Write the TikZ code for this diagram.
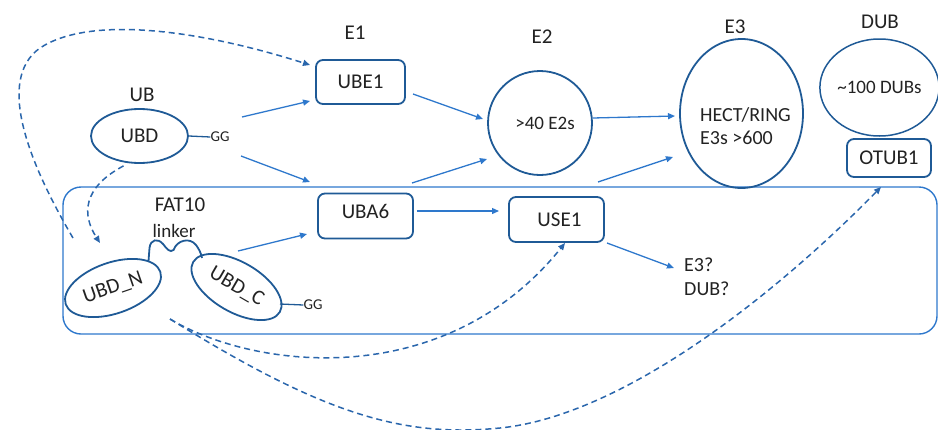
\documentclass[tikz,border=0pt]{standalone}
\usepackage{fontspec}
\setmainfont{Carlito}
\usetikzlibrary{shapes.geometric,arrows.meta}
\definecolor{nodeblue}{HTML}{1F5A96}
\definecolor{arrowblue}{HTML}{2E78CC}
\definecolor{dashblue}{HTML}{2A66AC}
\definecolor{txt}{HTML}{222222}
\tikzset{
  lbl/.style={font=\fontsize{21}{24}\selectfont, text=txt, inner sep=0pt},
  small/.style={font=\fontsize{15}{18}\selectfont, text=txt, inner sep=0pt},
  rbox/.style={draw=nodeblue, line width=1.8pt, rounded corners=7pt, inner sep=0pt,
    font=\fontsize{21}{24}\selectfont, text=txt},
  oval/.style={draw=nodeblue, line width=1.8pt, ellipse, inner sep=0pt,
    font=\fontsize{21}{24}\selectfont, text=txt},
  flow/.style={draw=arrowblue, line width=1.3pt, -{Triangle[length=7pt,width=6pt]}},
  dflow/.style={draw=dashblue, line width=1.5pt, dash pattern=on 6pt off 4pt,
    -{Triangle[length=7pt,width=6pt]}},
}
\begin{document}
\begin{tikzpicture}[x=1pt,y=-1pt]
\useasboundingbox (0,0) rectangle (938,429);

% FAT10 frame
\draw[arrowblue, line width=1.4pt, rounded corners=18pt] (63,187) rectangle (937,334);

% UB
\node[lbl] (ublbl) at (142,95) {UB};
\node[oval, minimum width=97pt, minimum height=54pt] (ubd) at (139.5,136) {UBD};
\node[small] (gg1) at (220,137) {GG};
\draw[nodeblue, line width=1.3pt] (ubd.east) -- (gg1.west);

% E1
\node[lbl] (e1lbl) at (355,33) {E1};
\node[rbox, minimum width=89pt, minimum height=44pt] (ube1) at (360.5,82) {UBE1};
\node[rbox, minimum width=95pt, minimum height=45pt, text depth=10pt] (uba6) at (365.5,216) {UBA6};

% E2
\node[lbl] (e2lbl) at (542,37) {E2};
\node[draw=nodeblue, line width=1.8pt, circle, minimum size=104pt, inner sep=0pt,
  font=\fontsize{19}{22}\selectfont, text=txt] (e2) at (540,123) {\hspace{10pt}>40 E2s};
\node[rbox, minimum width=95pt, minimum height=45pt] (use1) at (556.5,219.5) {\hspace{6pt}USE1};

% E3
\node[lbl] (e3lbl) at (735,27) {E3};
\node[oval, minimum width=123pt, minimum height=149pt] (e3) at (741.5,113.5) {};
\node[font=\fontsize{20}{23}\selectfont, text=txt, inner sep=0pt, align=left, anchor=west] (e3t) at (700,126.5) {HECT/RING\\E3s >600};
\node[font=\fontsize{20}{24}\selectfont, text=txt, inner sep=0pt, align=left, anchor=west] (e3q) at (684,277) {E3?\\DUB?};

% DUB
\node[lbl] (dublbl) at (880,22) {DUB};
\node[draw=nodeblue, line width=1.5pt, ellipse, minimum width=115pt, minimum height=97pt, inner sep=0pt,
  font=\fontsize{19}{22}\selectfont, text=txt] (dub) at (879.5,87.5) {\textasciitilde100 DUBs};
\node[rbox, minimum width=84pt, minimum height=38pt] (otub1) at (889,158) {OTUB1};

% FAT10 domains
\node[lbl] (fatlbl) at (180,205) {FAT10};
\node[font=\fontsize{19}{22}\selectfont, text=txt, inner sep=0pt] (linklbl) at (174,231) {linker};
\node[oval, minimum width=100pt, minimum height=51pt, rotate=19] (ubdn) at (113,288) {UBD\_N};
\node[oval, minimum width=100pt, minimum height=50pt, rotate=-30] (ubdc) at (236.5,287) {UBD\_C};
\node[small] (gg2) at (313,305) {GG};
\draw[nodeblue, line width=1.3pt] (280,304) -- (gg2.west);

% linker between the two domains
\draw[nodeblue, line width=1.8pt]
  (148.5,261) -- (149.5,248)
  .. controls (150.5,239) and (158,238) .. (163,244)
  .. controls (167,249) and (170,253) .. (173.5,250)
  .. controls (177,240) and (190,237) .. (196,245)
  .. controls (199,249) and (201,253) .. (202,258);

% solid arrows
\coordinate (a1s) at (242,117); \coordinate (a1e) at (310,101);
\coordinate (a2s) at (241,156); \coordinate (a2e) at (310,182);
\draw[flow] (a1s) -- (a1e);
\draw[flow] (a2s) -- (a2e);
\coordinate (b1s) at (413,94); \coordinate (b1e) at (483,119);
\coordinate (b2s) at (412,183); \coordinate (b2e) at (487,159);
\draw[flow] (b1s) -- (b1e);
\draw[flow] (b2s) -- (b2e);
\draw[flow] (e2.east) ++(0,-5) coordinate (c1s) -- (675,116) coordinate (c1e);
\coordinate (c2s) at (598,182); \coordinate (c2e) at (673,157);
\draw[flow] (c2s) -- (c2e);
\draw[flow] (uba6.east) ++(3,-5) coordinate (d1s) -- (499,211) coordinate (d1e);
\coordinate (d2s) at (238,251); \coordinate (d2e) at (307,234);
\draw[flow] (d2s) -- (d2e);
\coordinate (d3s) at (607,243); \coordinate (d3e) at (674,268);
\draw[flow] (d3s) -- (d3e);

% dashed connectors
\coordinate (lstart) at (73,238);
\coordinate (ube1in) at (310,65);
\draw[dflow] (lstart) .. controls (30,165) and (-5,80) .. (40,48)
  .. controls (90,15) and (200,30) .. (ube1in);
\coordinate (ubdnin) at (100,243);
\draw[dflow] (ubd.south) ++(-16,2) .. controls (82,188) and (82,215) .. (ubdnin);
\coordinate (tailpt) at (170,319);
\coordinate (use1in) at (565,243);
\draw[dflow] (tailpt) .. controls (255,370) and (445,392) .. (use1in);
\coordinate (otubin) at (881,187);
\draw[dflow] (tailpt) .. controls (320,412) and (400,438) .. (500,428)
  .. controls (620,416) and (770,300) .. (otubin);
\end{tikzpicture}
\end{document}
